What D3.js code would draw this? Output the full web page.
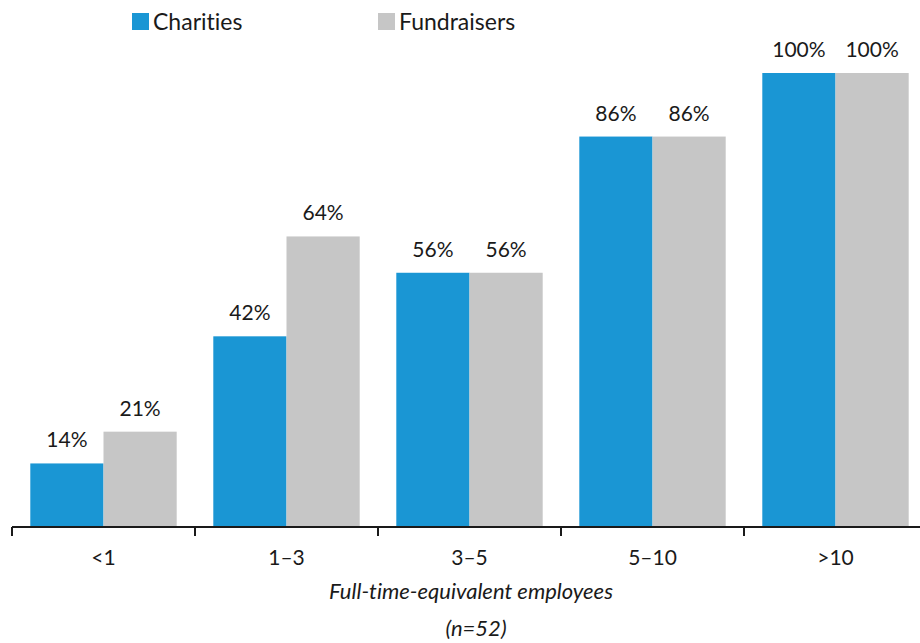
<!DOCTYPE html>
<html>
<head>
<meta charset="utf-8">
<script src="https://cdn.jsdelivr.net/npm/d3@7"></script>
<style>
  body { margin: 0; background: #fff; }
  svg { font-family: Lato, sans-serif; font-variant-ligatures: none; }
</style>
</head>
<body>
<svg></svg>
<script>
const width = 920;
const height = 643;

const categories = ["<1", "1\u20133", "3\u20135", "5\u201310", ">10"];
const seriesNames = ["Charities", "Fundraisers"];
const charities = [14, 42, 56, 86, 100];
const fundraisers = [21, 64, 56, 86, 100];
const colors = ["#1a96d4", "#c6c6c6"];

const rows = categories.map((c, i) => ({ cat: c, values: [charities[i], fundraisers[i]] }));

const svg = d3.select("svg")
  .attr("width", width)
  .attr("height", height);

const baseY = 527;

const x = d3.scaleBand()
  .domain(categories)
  .range([12, 927])
  .paddingInner(0.2)
  .paddingOuter(0.1);

const x1 = d3.scaleBand()
  .domain(seriesNames)
  .range([0, x.bandwidth()]);

const y = d3.scaleLinear()
  .domain([0, 100])
  .range([baseY, 73]);

const group = svg.selectAll("g.cat")
  .data(rows)
  .enter()
  .append("g")
  .attr("class", "cat")
  .attr("transform", d => `translate(${x(d.cat)},0)`);

group.selectAll("rect")
  .data(d => d.values.map((v, i) => ({ name: seriesNames[i], v, i })))
  .enter()
  .append("rect")
  .attr("x", d => x1(d.name))
  .attr("y", d => y(d.v))
  .attr("width", x1.bandwidth())
  .attr("height", d => baseY - y(d.v))
  .attr("fill", d => colors[d.i]);

group.selectAll("text")
  .data(d => d.values.map((v, i) => ({ name: seriesNames[i], v, i })))
  .enter()
  .append("text")
  .attr("x", d => x1(d.name) + x1.bandwidth() / 2)
  .attr("y", d => y(d.v) - 16)
  .attr("text-anchor", "middle")
  .attr("font-size", 21)
  .attr("fill", "#1a1a1a")
  .text(d => d.v + "%");

// x axis
const axis = svg.append("g")
  .attr("transform", `translate(0,${baseY})`)
  .call(d3.axisBottom(x).tickSize(0).tickPadding(0));
axis.select(".domain").remove();
axis.selectAll("text")
  .attr("y", 38)
  .attr("dy", 0)
  .attr("font-size", 21)
  .attr("font-family", "Lato, sans-serif")
  .attr("fill", "#1a1a1a");

svg.append("line")
  .attr("x1", 12).attr("x2", width)
  .attr("y1", baseY).attr("y2", baseY)
  .attr("stroke", "#1a1a1a")
  .attr("stroke-width", 2);

svg.selectAll("line.tick")
  .data(categories)
  .enter()
  .append("line")
  .attr("class", "tick")
  .attr("x1", d => x(d) - x.step() * 0.1)
  .attr("x2", d => x(d) - x.step() * 0.1)
  .attr("y1", baseY)
  .attr("y2", baseY + 9)
  .attr("stroke", "#1a1a1a")
  .attr("stroke-width", 2);

svg.append("text")
  .attr("x", 471)
  .attr("y", 599)
  .attr("text-anchor", "middle")
  .attr("font-size", 22)
  .attr("font-style", "italic")
  .attr("fill", "#1a1a1a")
  .text("Full-time-equivalent employees");

svg.append("text")
  .attr("x", 476)
  .attr("y", 636)
  .attr("text-anchor", "middle")
  .attr("font-size", 22)
  .attr("font-style", "italic")
  .attr("fill", "#1a1a1a")
  .text("(n=52)");

// legend
const legendX = [132, 378];
const legend = svg.selectAll("g.legend")
  .data(seriesNames)
  .enter()
  .append("g")
  .attr("class", "legend")
  .attr("transform", (d, i) => `translate(${legendX[i]},0)`);

legend.append("rect")
  .attr("x", 0)
  .attr("y", 13)
  .attr("width", 17)
  .attr("height", 17)
  .attr("fill", (d, i) => colors[i]);

legend.append("text")
  .attr("x", 21)
  .attr("y", 30)
  .attr("font-size", 23)
  .attr("fill", "#1a1a1a")
  .text(d => d);
</script>
</body>
</html>
